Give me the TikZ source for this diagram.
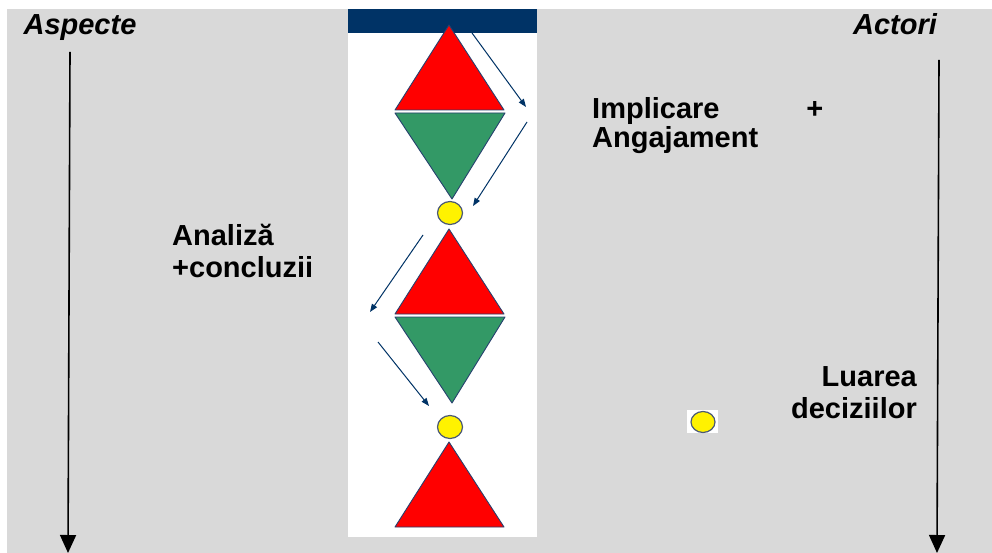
\documentclass[tikz,border=0pt]{standalone}
\usepackage{fontspec}
\setmainfont{Liberation Sans}
\usetikzlibrary{arrows.meta,shapes.geometric}
\definecolor{panelgray}{HTML}{D9D9D9}
\definecolor{navy}{HTML}{003366}
\definecolor{rim}{HTML}{26406E}
\definecolor{leaf}{HTML}{339966}
\begin{document}
\begin{tikzpicture}[x=1pt,y=-1pt,line join=round,
	lbl/.style={font=\fontsize{29}{32}\selectfont\bfseries,inner sep=0pt},
	axis/.style={line width=1.6pt,-{Triangle[length=18pt,width=16pt]}},
	flow/.style={draw=navy,line width=1pt,-{Triangle[length=8pt,width=6pt]}},
	up/.style={fill=red,draw=rim,line width=0.9pt},
	dn/.style={fill=leaf,draw=rim,line width=0.9pt},
	dot/.style={ellipse,fill=yellow,draw=rim!60!gray,line width=1.2pt,minimum width=25pt,minimum height=23pt,inner sep=0pt}]
	\useasboundingbox (0,0) rectangle (992,553);
	\fill[panelgray] (7,9) rectangle (992,553);
	% central column
	\fill[white] (348,9) rectangle (537,537);
	\fill[navy] (348,9) rectangle (537,33);
	\foreach \t in {25,229,442}
		\filldraw[up] (449,\t)--(504,\t+85)--(395,\t+85)--cycle;
	\foreach \g in {113,317}
		\filldraw[dn] (395,\g)--(505,\g)--(452,\g+86)--cycle;
	\node[dot] (c1) at (450,213) {};
	\node[dot] (c2) at (450,427) {};
	% small arrows
	\coordinate (a1) at (472,33);  \coordinate (b1) at (526,107);
	\coordinate (a2) at (527,122); \coordinate (b2) at (473,206);
	\coordinate (a3) at (423,235); \coordinate (b3) at (370,312);
	\coordinate (a4) at (378,342); \coordinate (b4) at (429,406);
	\foreach \i in {1,...,4}
		\draw[flow] (a\i)--(b\i);
	% labels
	\node[lbl,font=\fontsize{29}{32}\selectfont\bfseries\itshape,anchor=base] (aspecte) at (80,35) {Aspecte};
	\node[lbl,font=\fontsize{29}{32}\selectfont\bfseries\itshape,anchor=base] (actori) at (895,35) {Actori};
	\node[lbl,align=left,anchor=base west] (analiza) at (172,277) {Analiză\\+concluzii};
	\node[lbl,font=\fontsize{29}{29}\selectfont\bfseries,align=left,text width=231pt,anchor=base west] (implicare) at (592,119) {Implicare\hskip 0pt plus 1filll+\\Angajament};
	\node[lbl,align=right,anchor=base east] (luarea) at (917,418) {Luarea\\deciziilor};
	\fill[white] (687,410) rectangle (718,433);
	\node[dot,minimum width=24pt,minimum height=21pt] (c3) at (703,422) {};
	% axes
	\coordinate (l0) at (70,52);  \coordinate (l1) at (68,553);
	\coordinate (r0) at (939,60); \coordinate (r1) at (937,553);
	\draw[axis] (l0)--(l1);
	\draw[axis] (r0)--(r1);
\end{tikzpicture}
\end{document}
